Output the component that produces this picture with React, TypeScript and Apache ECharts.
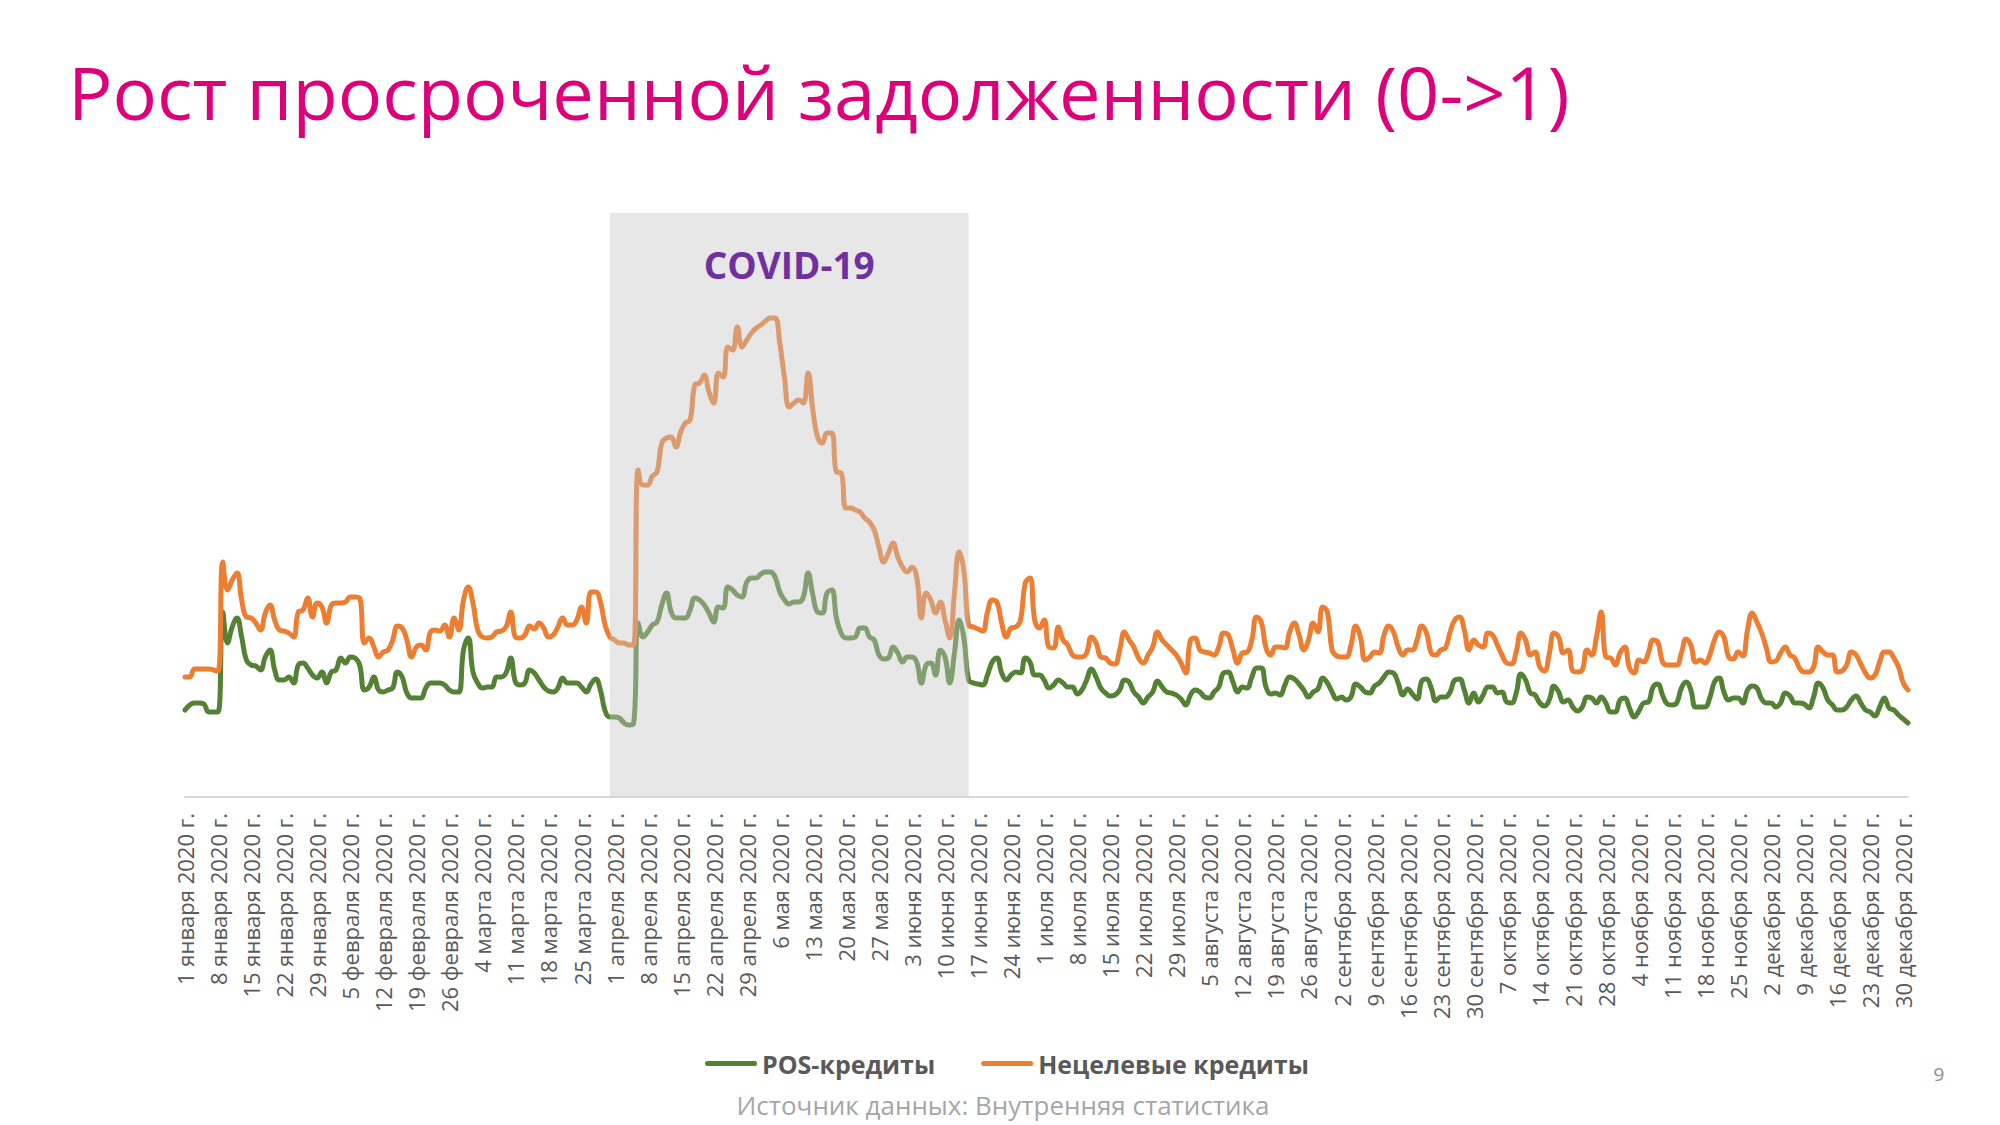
import React, { useEffect, useRef } from "react";
import * as echarts from "echarts";

const TITLE = "Рост просроченной задолженности (0->1)";
const SOURCE = "Источник данных: Внутренняя статистика";
const PAGE = "9";
const COVID_LABEL = "COVID-19";
const COVID_START = "31 марта 2020 г.";
const COVID_END = "15 июня 2020 г.";

const MONTHS = ["января", "февраля", "марта", "апреля", "мая", "июня", "июля", "августа", "сентября", "октября", "ноября", "декабря"];
const MONTH_DAYS = [31, 29, 31, 30, 31, 30, 31, 31, 30, 31, 30, 31];
const categories: string[] = [];
MONTHS.forEach((m, i) => {
  for (let d = 1; d <= MONTH_DAYS[i]; d++) categories.push(`${d} ${m} 2020 г.`);
});

const SERIES_NAMES = ["POS-кредиты", "Нецелевые кредиты"];

// POS-кредиты, daily values (arbitrary units)
const posJanMar = [
  87, 92, 94, 94, 93, 85, 85, 85, 185, 154,
  170, 179, 160, 137, 132, 131, 127, 140, 147, 127,
  117, 117, 120, 114, 132, 134, 129, 122, 119, 125,
  114, 125, 127, 139, 134, 140, 139, 132, 107, 110,
  120, 107, 105, 107, 109, 125, 120, 104, 99, 99,
  99, 109, 114, 114, 114, 112, 107, 105, 105, 147,
  159, 125, 114, 109, 110, 110, 120, 120, 124, 139,
  115, 112, 114, 127, 124, 117, 110, 106, 105, 109,
  119, 114, 114, 114, 110, 105, 113, 118, 107, 86,
  80,
];
const posAprJun = [
  80, 79, 74, 72, 73, 174, 160, 165, 172,
  175, 192, 204, 185, 179, 179, 179, 187, 199, 197,
  192, 184, 175, 190, 189, 210, 207, 202, 200, 215,
  219, 219, 223, 225, 225, 220, 205, 197, 193, 195,
  195, 200, 224, 202, 185, 184, 204, 207, 179, 164,
  159, 159, 160, 169, 169, 160, 157, 142, 138, 139,
  150, 144, 135, 140, 140, 135, 114, 132, 134, 122,
  147, 140, 114, 144, 177, 159, 117, 114, 113, 112,
  122, 135, 139, 124, 117, 122, 125, 124, 139, 135,
  122,
];
const posJulSep = [
  122, 117, 109, 112, 117, 114, 110, 110, 103,
  107, 117, 128, 120, 109, 104, 101, 102, 107, 117,
  115, 105, 100, 94, 100, 105, 116, 110, 105, 104,
  102, 98, 92, 102, 107, 105, 100, 99, 105, 110,
  124, 125, 115, 105, 110, 109, 120, 129, 129, 110,
  103, 104, 102, 112, 120, 118, 113, 107, 100, 105,
  108, 119, 114, 105, 98, 100, 97, 100, 113, 110,
  105, 104, 111, 114, 120, 125, 124, 114, 102, 108,
  103, 98, 116, 118, 109, 96, 100, 100, 105, 117,
  118, 107, 94,
];
const posOctDec = [
  104, 95, 102, 110, 110, 104, 105,
  95, 94, 104, 123, 117, 104, 102, 94, 91, 97,
  111, 105, 95, 97, 90, 86, 90, 100, 99, 94,
  100, 94, 85, 85, 97, 99, 89, 80, 86, 94,
  95, 110, 113, 102, 93, 92, 94, 109, 115, 107,
  90, 90, 90, 99, 115, 119, 105, 97, 99, 99,
  94, 107, 111, 109, 98, 94, 94, 90, 94, 104,
  101, 94, 94, 93, 89, 100, 114, 109, 97, 92,
  87, 87, 90, 97, 101, 94, 87, 85, 81, 90,
  99, 89, 87, 82, 78, 74,
];

// Нецелевые кредиты, daily values
const cashJanMar = [
  120, 120, 128, 128, 128, 128, 127, 126, 235, 207,
  217, 224, 197, 180, 179, 174, 167, 184, 192, 177,
  167, 166, 164, 160, 185, 187, 199, 180, 194, 190,
  174, 192, 194, 194, 195, 200, 200, 199, 154, 159,
  150, 140, 145, 147, 157, 171, 169, 157, 140, 150,
  152, 147, 165, 167, 166, 172, 160, 179, 167, 197,
  210, 194, 167, 160, 159, 160, 165, 166, 170, 185,
  160, 159, 162, 171, 168, 174, 169, 160, 162, 170,
  179, 172, 172, 177, 190, 174, 205, 205, 195, 172,
  160,
];
const cashAprJun = [
  157, 154, 154, 152, 152, 327, 312, 312, 321,
  325, 354, 359, 360, 350, 365, 374, 377, 412, 414,
  422, 405, 394, 424, 420, 450, 447, 470, 450, 457,
  464, 469, 472, 476, 479, 479, 454, 419, 390, 394,
  397, 394, 424, 387, 360, 354, 364, 364, 325, 324,
  289, 289, 287, 285, 279, 275, 267, 250, 235, 244,
  254, 240, 230, 225, 230, 220, 179, 204, 197, 184,
  195, 177, 159, 204, 245, 226, 172, 170, 168, 166,
  185, 197, 195, 174, 160, 169, 170, 177, 214, 219,
  177,
];
const cashJulSep = [
  169, 177, 150, 149, 170, 157, 152, 142, 140,
  140, 144, 160, 154, 140, 139, 134, 133, 147, 165,
  157, 150, 139, 134, 142, 150, 165, 157, 152, 147,
  142, 134, 124, 157, 159, 147, 145, 144, 142, 150,
  164, 162, 147, 134, 144, 145, 157, 180, 175, 149,
  142, 150, 150, 149, 165, 174, 162, 147, 157, 174,
  165, 190, 185, 147, 141, 140, 140, 152, 171, 160,
  137, 140, 145, 144, 162, 171, 165, 150, 142, 147,
  147, 157, 171, 164, 144, 142, 147, 149, 165, 177,
  180, 167, 147,
];
const cashOctDec = [
  157, 152, 150, 164, 162, 152, 142,
  134, 133, 145, 164, 157, 142, 145, 130, 126, 143,
  164, 160, 144, 147, 126, 125, 127, 147, 142, 160,
  185, 140, 139, 132, 144, 150, 129, 124, 137, 135,
  144, 157, 155, 135, 132, 132, 132, 144, 158, 152,
  135, 137, 134, 142, 157, 165, 160, 140, 138, 145,
  141, 167, 184, 175, 164, 149, 135, 136, 144, 150,
  142, 139, 129, 125, 125, 130, 150, 145, 142, 142,
  125, 126, 132, 145, 142, 133, 124, 119, 122, 135,
  145, 145, 139, 130, 114, 107,
];

const posValues = [...posJanMar, ...posAprJun, ...posJulSep, ...posOctDec];
const cashValues = [...cashJanMar, ...cashAprJun, ...cashJulSep, ...cashOctDec];

const GREEN = "#548235";
const ORANGE = "#ED7D31";
const FONT = "'Open Sans', 'Noto Sans', sans-serif";
const PILL = "path://M2.5,0 L49.5,0 A2.5,2.5 0 0 1 49.5,5 L2.5,5 A2.5,2.5 0 0 1 2.5,0 Z";

export default function App() {
  const ref = useRef<HTMLDivElement>(null);
  useEffect(() => {
    if (!ref.current) return;
    const chart = echarts.init(ref.current, undefined, { renderer: "svg" });
    const option: any = {
      animation: false,
      backgroundColor: "#ffffff",
      textStyle: { fontFamily: FONT },
      grid: { left: 185, right: 92, top: 213, bottom: 328, containLabel: false },
      xAxis: {
        type: "category",
        data: categories,
        boundaryGap: false,
        axisLine: { lineStyle: { color: "#D9D9D9", width: 2 } },
        axisTick: { show: false },
        splitLine: { show: false },
        axisLabel: {
          interval: 6,
          rotate: 90,
          margin: 16,
          color: "#595959",
          fontSize: 22,
          fontFamily: FONT,
        },
      },
      yAxis: { type: "value", min: 0, max: 584, show: false },
      legend: {
        data: [
          { name: SERIES_NAMES[0], icon: PILL, itemStyle: { color: GREEN } },
          { name: SERIES_NAMES[1], icon: PILL, itemStyle: { color: ORANGE } },
        ],
        left: 700,
        top: 1046,
        itemWidth: 52,
        itemHeight: 5,
        itemGap: 46,
        textStyle: { color: "#595959", fontSize: 25, fontWeight: "bold", fontFamily: FONT },
      },
      series: [
        {
          name: SERIES_NAMES[0],
          type: "line",
          data: posValues,
          symbol: "none",
          showSymbol: false,
          smooth: 0.45,
          z: 2,
          lineStyle: { color: GREEN, width: 5, cap: "round", join: "round" },
          itemStyle: { color: GREEN },
        },
        {
          name: SERIES_NAMES[1],
          type: "line",
          data: cashValues,
          symbol: "none",
          showSymbol: false,
          smooth: 0.45,
          z: 2,
          lineStyle: { color: ORANGE, width: 5, cap: "round", join: "round" },
          itemStyle: { color: ORANGE },
        },
        {
          name: "covid",
          type: "line",
          data: [],
          z: 10,
          silent: true,
          markArea: {
            silent: true,
            z: 10,
            itemStyle: { color: "rgba(198,198,198,0.42)" },
            label: {
              show: true,
              position: "insideTop",
              distance: 33,
              formatter: COVID_LABEL,
              color: "#7030A0",
              fontSize: 37,
              fontWeight: "bold",
              fontFamily: FONT,
            },
            data: [[{ xAxis: COVID_START }, { xAxis: COVID_END }]],
          },
        },
      ],
      graphic: [
        {
          type: "text",
          x: 68,
          y: 91,
          style: {
            text: TITLE,
            fill: "#DE007B",
            fontSize: 74,
            fontFamily: FONT,
            align: "left",
            verticalAlign: "middle",
          },
        },
        {
          type: "text",
          x: 1003,
          y: 1105,
          style: {
            text: SOURCE,
            fill: "#A6A6A6",
            fontSize: 26,
            fontFamily: FONT,
            align: "center",
            verticalAlign: "middle",
          },
        },
        {
          type: "text",
          x: 1939,
          y: 1074,
          style: {
            text: PAGE,
            fill: "#8C8C8C",
            fontSize: 19,
            fontFamily: FONT,
            align: "center",
            verticalAlign: "middle",
          },
        },
      ],
    };
    chart.setOption(option);
    return () => chart.dispose();
  }, []);
  return (
    <div
      ref={ref}
      style={{ position: "fixed", left: 0, top: 0, width: 2000, height: 1125, background: "#fff" }}
    />
  );
}
